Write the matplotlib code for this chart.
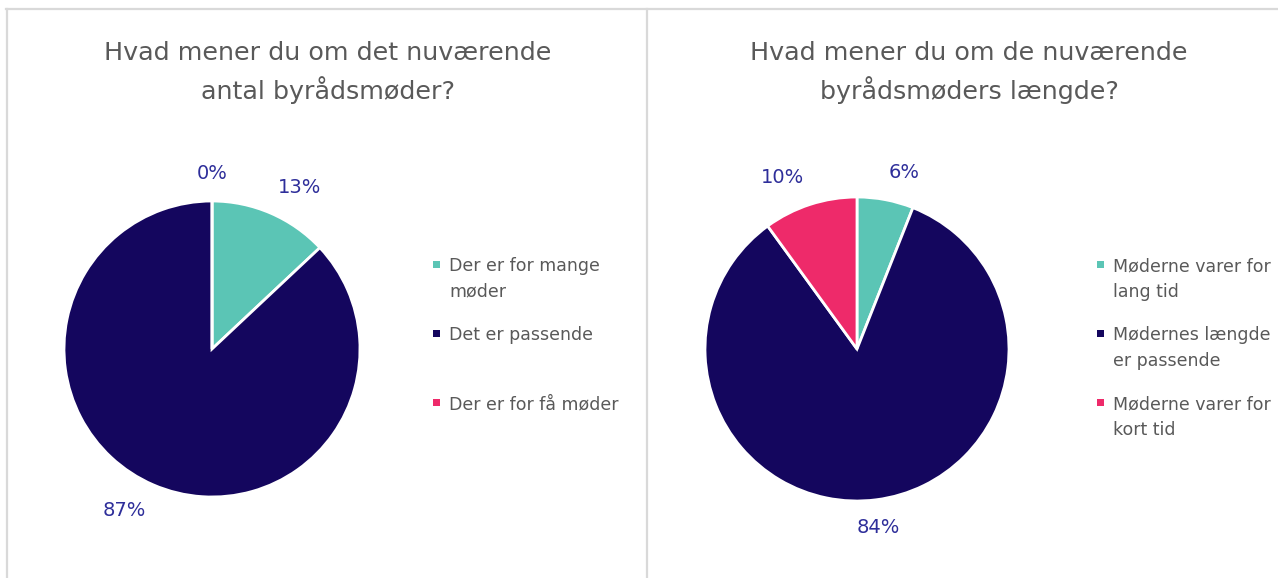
import matplotlib.pyplot as plt
from matplotlib.lines import Line2D
from matplotlib.patches import Rectangle

plt.rcParams['font.family'] = ['DejaVu Sans']

# data
titles = ["Hvad mener du om det nuværende\nantal byrådsmøder?",
          "Hvad mener du om de nuværende\nbyrådsmøders længde?"]
left_labels = ["Der er for mange\nmøder", "Det er passende", "Der er for få møder"]
left_values = [13, 87, 0]
right_labels = ["Møderne varer for\nlang tid", "Mødernes længde\ner passende", "Møderne varer for\nkort tid"]
right_values = [6, 84, 10]
colors = ["#5BC5B5", "#14065E", "#EE2A6A"]

W, H = 1278, 578
fig = plt.figure(figsize=(W / 100, H / 100), dpi=100)
fig.patch.set_facecolor("white")

def fx(px):
    return px / W

def fy(py):
    return 1 - py / H

# panel borders
border = "#d9d9d9"
fig.add_artist(Line2D([fx(6), fx(W)], [fy(9), fy(9)], color=border, lw=1.6))
fig.add_artist(Line2D([fx(7), fx(7)], [fy(9), 0], color=border, lw=1.6))
fig.add_artist(Line2D([fx(647), fx(647)], [fy(9), 0], color=border, lw=1.6))

panels = [
    dict(title=titles[0], labels=left_labels, values=left_values,
         cx=212, cy=349, r=148, tx=328, lx=449),
    dict(title=titles[1], labels=right_labels, values=right_values,
         cx=857, cy=349, r=152, tx=969, lx=1113),
]

LD = 1.12
for p in panels:
    cx, cy, r = p["cx"], p["cy"], p["r"]
    ax = fig.add_axes([fx(cx - r), fy(cy + r), 2 * r / W, 2 * r / H])
    pct = [f"{v}%" for v in p["values"]]
    wedges, texts = ax.pie(p["values"], colors=colors, startangle=90, counterclock=False,
                           labels=pct, labeldistance=LD,
                           wedgeprops=dict(edgecolor="white", linewidth=2),
                           textprops=dict(color="#2E2E9A", fontsize=14))
    # excel-like placement: label box sits just outside the wedge
    for t in texts:
        x, y = t.get_position()
        if x > 0.15 * LD:
            t.set_ha("left")
        elif x < -0.15 * LD:
            t.set_ha("right")
        else:
            t.set_ha("center")
        t.set_va("bottom" if y > 0 else "top")
    ax.set_xlim(-1, 1)
    ax.set_ylim(-1, 1)
    ax.set_aspect("auto")
    ax.axis("off")

    fig.text(fx(p["tx"]), fy(41), p["title"], ha="center", va="top",
             fontsize=18.3, color="#595959", linespacing=1.48)

    # legend
    for i, lab in enumerate(p["labels"]):
        ytop = 257 + i * 69
        fig.text(fx(p["lx"]), fy(ytop), lab, ha="left", va="top",
                 fontsize=12.5, color="#595959", linespacing=1.55)
        fig.add_artist(Rectangle((fx(p["lx"] - 16), fy(ytop + 11)), 7 / W, 7 / H,
                                 facecolor=colors[i], edgecolor="none",
                                 transform=fig.transFigure))

fig.savefig("out.png", dpi=100)
